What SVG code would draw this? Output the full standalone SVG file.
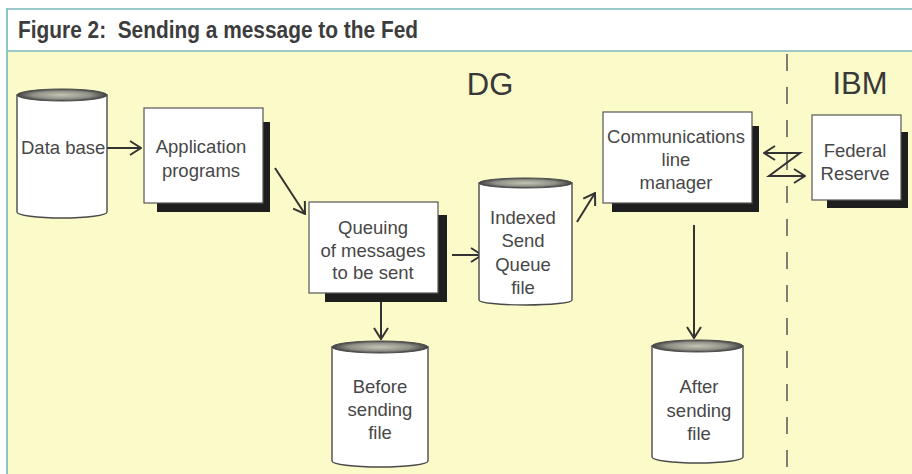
<svg xmlns="http://www.w3.org/2000/svg" width="912" height="474" viewBox="0 0 912 474">
  <defs>
    <style>
      .lbl { font-family: "Liberation Sans", Arial, Helvetica, sans-serif; font-size: 18.5px; fill: #474747; text-anchor: middle; }
      .big { font-family: "Liberation Sans", Arial, Helvetica, sans-serif; font-size: 31px; fill: #383838; text-anchor: middle; }
      .title { font-family: "Liberation Sans Narrow", "Liberation Sans", Arial, sans-serif; font-weight: bold; font-size: 23px; fill: #3c3c3c; white-space: pre; }
      .box { fill: #ffffff; stroke: #555555; stroke-width: 1.2; }
      .shadow { fill: #1e1e1e; }
      .cyl { fill: #ffffff; stroke: #4a4a4a; stroke-width: 1.4; }
      .lid { fill: url(#lidGrad); stroke: #4a4a4a; stroke-width: 1; }
      .wire { fill: none; stroke: #333333; stroke-width: 2; }
    </style>
    <radialGradient id="lidGrad" cx="50%" cy="50%" r="50%">
      <stop offset="0" stop-color="#c4c4b4"/>
      <stop offset="0.65" stop-color="#909088"/>
      <stop offset="1" stop-color="#404040"/>
    </radialGradient>
    <marker id="head" viewBox="-12 -8 13 16" refX="0" refY="0" markerWidth="13" markerHeight="16" markerUnits="userSpaceOnUse" orient="auto-start-reverse">
      <path d="M-11,-7 L0,0 L-11,7" fill="none" stroke="#333333" stroke-width="2"/>
    </marker>
  </defs>

  <!-- page and frame -->
  <rect x="0" y="0" width="912" height="474" fill="#ffffff"/>
  <rect x="8" y="52" width="904" height="422" fill="#fbfac9"/>
  <line x1="7" y1="9" x2="912" y2="9" stroke="#9ccacc" stroke-width="2"/>
  <line x1="7" y1="51" x2="912" y2="51" stroke="#9ccacc" stroke-width="2"/>
  <line x1="7" y1="8" x2="7" y2="474" stroke="#8fc4c4" stroke-width="2"/>
  <text class="title" x="18" y="38" textLength="400" lengthAdjust="spacingAndGlyphs" xml:space="preserve">Figure 2:  Sending a message to the Fed</text>

  <!-- domain divider -->
  <line x1="787" y1="54" x2="787" y2="474" stroke="#555555" stroke-width="1.5" stroke-dasharray="17 16"/>
  <text class="big" x="490" y="95">DG</text>
  <text class="big" x="860" y="94">IBM</text>

  <!-- connectors -->
  <g id="connectors">
    <line class="wire" x1="106" y1="148" x2="141" y2="148" marker-end="url(#head)"/>
    <line class="wire" x1="275" y1="168" x2="305" y2="214" marker-end="url(#head)"/>
    <line class="wire" x1="452" y1="255" x2="482" y2="255" marker-end="url(#head)"/>
    <line class="wire" x1="577" y1="222" x2="595" y2="193" marker-end="url(#head)"/>
    <line class="wire" x1="381" y1="302" x2="381" y2="339" marker-end="url(#head)"/>
    <line class="wire" x1="694" y1="225" x2="694" y2="338" marker-end="url(#head)"/>
    <path class="wire" d="M764,153 L800,153 L769,176 L805,176" marker-start="url(#head)" marker-end="url(#head)"/>
  </g>

  <!-- Data base -->
  <g id="database">
    <path class="cyl" d="M17,95 V212 A45,6 0 0 0 107,212 V95 Z"/>
    <ellipse class="lid" cx="62" cy="95" rx="45" ry="6"/>
    <text class="lbl" x="21" y="154" style="text-anchor:start">Data base</text>
  </g>

  <!-- Application programs -->
  <g id="application">
    <rect class="shadow" x="157" y="122" width="113" height="90"/>
    <rect class="box" x="144" y="108" width="119" height="95"/>
    <text class="lbl" x="201" y="153">Application</text>
    <text class="lbl" x="201" y="177">programs</text>
  </g>

  <!-- Queuing -->
  <g id="queuing">
    <rect class="shadow" x="325" y="215" width="122" height="87"/>
    <rect class="box" x="309" y="202" width="129" height="91"/>
    <text class="lbl" x="373" y="234">Queuing</text>
    <text class="lbl" x="373" y="257">of messages</text>
    <text class="lbl" x="373" y="279">to be sent</text>
  </g>

  <!-- Indexed Send Queue file -->
  <g id="indexed">
    <path class="cyl" d="M479,183 V300 A46.5,5 0 0 0 572,300 V183 Z"/>
    <ellipse class="lid" cx="525.5" cy="183" rx="46.5" ry="5"/>
    <text class="lbl" x="523" y="224">Indexed</text>
    <text class="lbl" x="523" y="247">Send</text>
    <text class="lbl" x="523" y="271">Queue</text>
    <text class="lbl" x="523" y="294">file</text>
  </g>

  <!-- Communications line manager -->
  <g id="comms">
    <rect class="shadow" x="612" y="126" width="147" height="86"/>
    <rect class="box" x="603" y="112" width="149" height="91"/>
    <text class="lbl" x="676" y="143">Communications</text>
    <text class="lbl" x="676" y="166">line</text>
    <text class="lbl" x="676" y="189">manager</text>
  </g>

  <!-- Federal Reserve -->
  <g id="fed">
    <rect class="shadow" x="827" y="132" width="81" height="76"/>
    <rect class="box" x="812" y="115" width="89" height="85"/>
    <text class="lbl" x="855" y="157">Federal</text>
    <text class="lbl" x="855" y="180">Reserve</text>
  </g>

  <!-- Before sending file -->
  <g id="before">
    <path class="cyl" d="M332,347 V461 A48,6 0 0 0 428,461 V347 Z"/>
    <ellipse class="lid" cx="380" cy="347" rx="48" ry="6"/>
    <text class="lbl" x="380" y="393">Before</text>
    <text class="lbl" x="380" y="416">sending</text>
    <text class="lbl" x="380" y="439">file</text>
  </g>

  <!-- After sending file -->
  <g id="after">
    <path class="cyl" d="M652,346 V457 A45.5,6 0 0 0 743,457 V346 Z"/>
    <ellipse class="lid" cx="697.5" cy="346" rx="45.5" ry="6"/>
    <text class="lbl" x="699" y="393">After</text>
    <text class="lbl" x="699" y="417">sending</text>
    <text class="lbl" x="699" y="440">file</text>
  </g>
</svg>
